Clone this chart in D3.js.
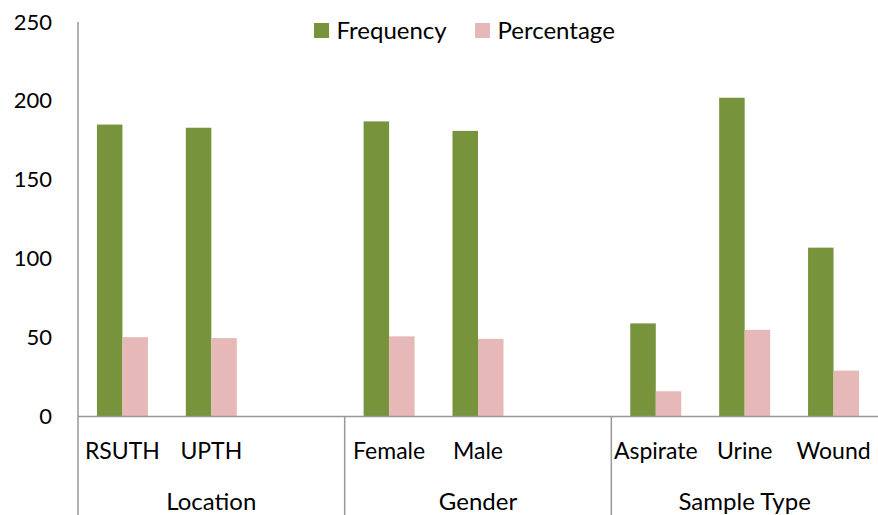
<!DOCTYPE html>
<html><head><meta charset="utf-8">
<script src="https://cdn.jsdelivr.net/npm/d3@7"></script>
<style>body{margin:0;background:#fff}svg{display:block}text{font-family:Lato,"Open Sans",sans-serif;fill:#000}</style>
</head><body>
<svg id="c" width="878" height="515"></svg>
<script>
const groups = ["Location","Gender","Sample Type"];
const categories = ["RSUTH","UPTH","Female","Male","Aspirate","Urine","Wound"];
const categoryGroup = ["Location","Location","Gender","Gender","Sample Type","Sample Type","Sample Type"];
const seriesNames = ["Frequency","Percentage"];
const frequency = [185,183,187,181,59,202,107];
const percentage = [50.3,49.7,50.8,49.2,16.0,54.9,29.1];
const yTicks = [0,50,100,150,200,250];
const colors = ["#77933C","#E6B9B8"];

const svg = d3.select("#c");
const W=878, H=515, x0=78, x1=878, yTop=22, yBase=416.5;

const slots = [];
groups.forEach((g,gi)=>{
  categories.forEach((c,i)=>{ if(categoryGroup[i]===g) slots.push(c); });
  if(gi<groups.length-1) slots.push("__gap"+gi);
});
const x = d3.scaleBand().domain(slots).range([x0,x1]).padding(0);
const barW = 25.5;
const xs = d3.scaleBand().domain(seriesNames).range([0,barW*2]);
const y = d3.scaleLinear().domain([0,250]).range([yBase,yTop]);

svg.append("g").selectAll("text").data(yTicks).join("text")
  .attr("x",52).attr("y",d=>y(d)+7.5).attr("text-anchor","end")
  .style("font-size","22px").text(d=>d);

const data = [frequency, percentage];
seriesNames.forEach((s,si)=>{
  svg.append("g").selectAll("rect").data(categories).join("rect")
    .attr("x",(c)=>x(c)+x.bandwidth()/2-barW+xs(s))
    .attr("width",xs.bandwidth())
    .attr("y",(c,i)=>y(data[si][i]))
    .attr("height",(c,i)=>yBase-y(data[si][i]))
    .attr("fill",colors[si]);
});

const axisColor="#999";
svg.append("line").attr("x1",x0).attr("x2",x0).attr("y1",yTop).attr("y2",H).attr("stroke",axisColor).attr("stroke-width",1.5);
svg.append("line").attr("x1",x0).attr("x2",x1).attr("y1",yBase).attr("y2",yBase).attr("stroke",axisColor).attr("stroke-width",1.5);

const groupBounds = groups.map((g,gi)=>{
  const idx = categories.map((c,i)=>i).filter(i=>categoryGroup[i]===g);
  const left = x(categories[idx[0]]);
  const right = gi<groups.length-1 ? x("__gap"+gi)+x.bandwidth() : x1;
  return {g,left,right};
});
groupBounds.slice(1).forEach(b=>{
  svg.append("line").attr("x1",b.left).attr("x2",b.left).attr("y1",yBase).attr("y2",H).attr("stroke",axisColor).attr("stroke-width",1.5);
});

svg.append("g").selectAll("text").data(categories).join("text")
  .attr("x",c=>x(c)+x.bandwidth()/2).attr("y",459).attr("text-anchor","middle")
  .style("font-size","23px").text(c=>c);

svg.append("g").selectAll("text").data(groupBounds).join("text")
  .attr("x",b=>(b.left+b.right)/2).attr("y",510).attr("text-anchor","middle")
  .style("font-size","24px").text(b=>b.g);

const legX = [314,475];
seriesNames.forEach((s,si)=>{
  svg.append("rect").attr("x",legX[si]).attr("y",23).attr("width",15).attr("height",15).attr("fill",colors[si]);
  svg.append("text").attr("x",legX[si]+22.5).attr("y",38.5).style("font-size","24px").text(s);
});
</script>
</body></html>
